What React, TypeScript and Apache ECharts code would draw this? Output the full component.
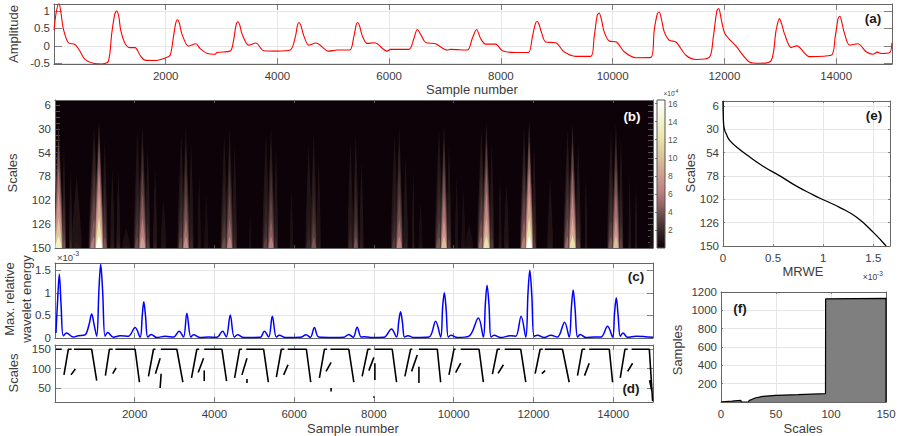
import React from "react";
import * as echarts from "echarts";

const FONT = '"Liberation Sans", Arial, sans-serif';
const TEXT = "#3c3c3c";
const FRAME = "#666666";
const GRIDLINE = "#e6e6e6";

const sampleTicks = [2000, 4000, 6000, 8000, 10000, 12000, 14000];
const scaleLabels = [6, 30, 54, 78, 102, 126, 150];
const scaleTicks = [6, 12, 18, 24, 30, 36, 42, 48, 54, 60, 66, 72, 78, 84, 90, 96, 102, 108, 114, 120, 126, 132, 138, 144, 150];
const amplitudeTicks = [-0.5, 0, 0.5, 1];
const energyTicks = [0, 0.5, 1, 1.5];
const dominantTicks = [50, 100, 150];
const mrweTicks = [0, 0.5, 1, 1.5];
const sampleCountTicks = [200, 400, 600, 800, 1000, 1200];
const scaleAxisTicks = [0, 50, 100, 150];
const colorbarTicks = [2, 4, 6, 8, 10, 12, 14, 16];

// (a) [sample, amplitude]
const signal: [number, number][] = [
  [1, 0.45], [40, 0.95], [90, 1.22], [125, 0.95], [167, 0.5], [257, 0.09], [376, 0.04], [454, -0.12], [556, -0.39], [705, -0.5], [855, -0.52], [974, -0.44],
  [1034, 0.35], [1085, 0.88], [1123, 1.0], [1160, 0.85], [1195, 0.45], [1273, 0.07], [1363, -0.05], [1452, -0.05], [1542, -0.27], [1631, -0.41], [1811, -0.42], [2002, -0.34], [2080, -0.27],
  [2139, 0.26], [2180, 0.65], [2211, 0.75], [2245, 0.65], [2289, 0.35], [2408, -0.01], [2540, 0.06], [2617, -0.08], [2749, -0.22], [2886, -0.24], [2916, -0.19], [3155, -0.15],
  [3215, 0.16], [3260, 0.6], [3293, 0.69], [3325, 0.6], [3365, 0.35], [3484, 0.02], [3615, 0.08], [3753, -0.14], [3992, -0.15], [4231, -0.12],
  [4321, 0.26], [4360, 0.6], [4386, 0.67], [4420, 0.58], [4470, 0.3], [4560, 0.02], [4691, 0.08], [4918, -0.15], [5068, -0.12], [5295, -0.12],
  [5367, 0.26], [5410, 0.6], [5438, 0.67], [5470, 0.58], [5516, 0.3], [5606, 0.07], [5737, 0.09], [5964, -0.15], [6024, -0.1], [6353, -0.1],
  [6442, 0.21], [6502, 0.47], [6574, 0.3], [6651, 0.1], [6830, 0.06], [7039, -0.12], [7099, -0.1], [7398, -0.12],
  [7487, 0.21], [7565, 0.47], [7637, 0.21], [7726, 0.05], [7906, 0.05], [8025, -0.14], [8264, -0.19], [8491, -0.19],
  [8563, 0.26], [8620, 0.65], [8653, 0.7], [8690, 0.58], [8724, 0.4], [8802, 0.11], [8981, 0.09], [9131, -0.17], [9340, -0.3], [9609, -0.3],
  [9669, 0.26], [9725, 0.88], [9758, 0.94], [9800, 0.75], [9848, 0.4], [9938, 0.14], [10069, 0.11], [10207, -0.17], [10416, -0.34], [10685, -0.33],
  [10744, 0.45], [10800, 0.92], [10834, 0.97], [10875, 0.75], [10924, 0.4], [11013, 0.16], [11133, 0.11], [11312, -0.27], [11491, -0.39], [11730, -0.33],
  [11802, 0.26], [11865, 1.0], [11898, 1.07], [11945, 0.75], [12011, 0.35], [12208, -0.01], [12447, -0.46], [12627, -0.5], [12836, -0.43],
  [12926, 0.45], [12986, 0.78], [13030, 0.6], [13075, 0.35], [13195, -0.05], [13296, 0], [13523, -0.31], [13912, -0.27],
  [13983, 0.26], [14035, 0.78], [14067, 0.85], [14105, 0.65], [14151, 0.35], [14240, 0.02], [14390, 0.06], [14539, -0.17], [14659, -0.24], [14736, -0.18], [14808, -0.22], [14957, -0.2], [15000, 0.09],
];

// (c) [sample, energy x 1e-3]
const maxEnergy: [number, number][] = [
  [25, 0.11], [65, 0.8], [109, 1.41], [155, 0.7], [209, 0.05], [293, 0.11], [460, 0.02], [586, 0.05], [754, 0.07], [850, 0.28], [921, 0.53], [985, 0.28], [1047, 0.04],
  [1105, 1.1], [1147, 1.63], [1195, 1.05], [1256, 0.04], [1323, 0.12], [1466, 0.015], [1633, 0.05], [1843, 0.04], [2010, 0.23], [2136, 0.015], [2190, 0.5], [2228, 0.8], [2270, 0.5], [2328, 0.02],
  [2412, 0.08], [2554, 0.01], [2764, 0.04], [2973, 0.02], [3115, 0.15], [3224, 0.02], [3308, 0.55], [3408, 0.02], [3475, 0.07], [3643, 0.01], [3852, 0.02], [4062, 0.015], [4204, 0.15], [4296, 0.02],
  [4397, 0.51], [4497, 0.02], [4581, 0.07], [4732, 0.01], [5150, 0.015], [5251, 0.15], [5360, 0.02], [5452, 0.48], [5553, 0.02], [5628, 0.06], [5779, 0.01], [6156, 0.015], [6298, 0.07], [6407, 0.015],
  [6507, 0.23], [6616, 0.02], [6993, 0.01], [7244, 0.015], [7370, 0.08], [7479, 0.015], [7580, 0.24], [7680, 0.02], [7747, 0.03], [7915, 0.01], [8250, 0.015], [8442, 0.2], [8568, 0.02],
  [8625, 0.38], [8668, 0.58], [8715, 0.35], [8769, 0.02], [8853, 0.05], [9003, 0.01], [9380, 0.02], [9548, 0.37], [9674, 0.02], [9725, 0.7], [9766, 1.0], [9810, 0.65], [9866, 0.02], [9933, 0.06],
  [10092, 0.01], [10385, 0.04], [10620, 0.44], [10745, 0.02], [10795, 0.75], [10838, 1.17], [10885, 0.75], [10938, 0.02], [11013, 0.06], [11181, 0.01], [11432, 0.05], [11558, 0.04], [11692, 0.48], [11809, 0.02],
  [11865, 1.0], [11910, 1.5], [11960, 0.95], [12018, 0.04], [12102, 0.06], [12270, 0.01], [12437, 0.06], [12605, 0.02], [12781, 0.35], [12898, 0.02], [12955, 0.7], [12998, 1.06], [13045, 0.65], [13107, 0.02],
  [13174, 0.08], [13317, 0.01], [13526, 0.02], [13694, 0.02], [13861, 0.26], [13987, 0.02], [14035, 0.55], [14079, 0.89], [14125, 0.5], [14179, 0.04], [14246, 0.11], [14364, 0.015], [14573, 0.04], [15000, 0.015],
];

// (d) strokes of the dominant scale, [sample, scale]
const dominantStrokes: [number, number][][] = [
  [[25, 150], [170, 150]],
  [[226, 84], [335, 150], [419, 150]],
  [[477, 150], [921, 150], [1047, 69]],
  [[1265, 82], [1365, 150], [1449, 150]],
  [[1516, 150], [2010, 150], [2119, 65]],
  [[2345, 80], [2471, 150], [2521, 150]],
  [[2655, 150], [3057, 150], [3208, 65]],
  [[3425, 76], [3559, 150], [3618, 150]],
  [[3744, 150], [4188, 150], [4305, 68]],
  [[4506, 76], [4631, 150], [4690, 150]],
  [[4799, 150], [5234, 150], [5352, 65]],
  [[5553, 78], [5678, 150], [5754, 150]],
  [[5837, 150], [6306, 150], [6415, 65]],
  [[6633, 76], [6758, 150], [6825, 150]],
  [[6909, 150], [7370, 150], [7496, 65]],
  [[7705, 80], [7848, 150], [7915, 150]],
  [[8024, 150], [8459, 150], [8568, 65]],
  [[8777, 80], [8920, 150], [8962, 150]],
  [[9129, 150], [9590, 150], [9674, 65]],
  [[9883, 84], [10008, 150], [10050, 150]],
  [[10176, 150], [10637, 150], [10745, 65]],
  [[10972, 86], [11097, 150], [11164, 150]],
  [[11281, 150], [11683, 150], [11809, 65]],
  [[12044, 87], [12169, 150], [12236, 150]],
  [[12286, 150], [12730, 150], [12898, 65]],
  [[13107, 82], [13224, 150], [13300, 150]],
  [[13400, 150], [13903, 150], [13987, 65]],
  [[14179, 76], [14296, 150], [14364, 150]],
  [[14464, 150], [14908, 150], [14991, 16]],
  [[402, 84], [511, 99]],
  [[1449, 87], [1533, 102]],
  [[2521, 87], [2638, 127]],
  [[2663, 87], [2638, 50]],
  [[3593, 90], [3727, 127]],
  [[3744, 95], [3744, 68]],
  [[4690, 84], [4816, 127]],
  [[4816, 73], [4816, 63]],
  [[5737, 84], [5846, 110]],
  [[6800, 93], [6926, 116]],
  [[6926, 50], [6926, 41]],
  [[7873, 95], [7999, 129]],
  [[8024, 114], [8024, 71]],
  [[7999, 29], [7999, 25]],
  [[8945, 93], [9087, 135]],
  [[9129, 105], [9129, 63]],
  [[10050, 90], [10176, 114]],
  [[11114, 88], [11248, 110]],
  [[12211, 87], [12295, 95]],
  [[13283, 82], [13400, 114]],
  [[14364, 93], [14489, 114]],
  [[14915, 70], [14975, 40]],
];

// (e) [MRWE x 1e-3, scale]
const mrweCurve: [number, number][] = [
  [0, 1], [0.003, 17.6], [0.01, 28], [0.033, 35], [0.067, 41.5], [0.133, 48], [0.233, 56], [0.4, 68], [0.567, 78], [0.733, 88.5], [0.9, 97.5], [1, 102.5], [1.167, 110.5], [1.333, 120.5], [1.5, 136], [1.627, 150],
];

// (f) [scale, samples]
const sampleCounts: [number, number][] = [
  [0, 0], [1, 3], [10, 10], [18, 18], [18.5, 0], [25, 0], [25.5, 15], [31, 44], [38, 62], [50, 73], [70, 80], [95, 91], [95.1, 1124], [150, 1131], [150, 0],
];

// (b) ridges: [centre sample, top scale, half width at scale 150, energy x 1e-4 at scale 150]
const ridges: [number, number, number, number][] = [
  [90, 24, 110, 14], [226, 46, 50, 4], [394, 71, 40, 2], [544, 78, 120, 1.2], [980, 29, 130, 6], [1105, 24, 110, 16], [1248, 41, 70, 4], [1440, 71, 50, 1.4], [1591, 73, 50, 1.6], [1784, 130, 100, 1],
  [2069, 32, 90, 3.5], [2194, 27, 100, 8], [2328, 48, 60, 2.8], [2512, 71, 50, 1.4], [2722, 103, 70, 1], [3166, 36, 90, 3.5], [3283, 28, 90, 7], [3417, 46, 60, 2], [3618, 78, 40, 1], [3794, 95, 50, 0.8],
  [4246, 37, 90, 3.5], [4380, 29, 90, 6.5], [4506, 46, 60, 2], [4899, 117, 30, 0.8], [5293, 37, 90, 3], [5419, 28, 90, 6], [5544, 49, 50, 2], [5930, 91, 40, 1], [6365, 46, 80, 2], [6491, 34, 80, 4], [6616, 59, 50, 1.2],
  [7412, 44, 70, 2], [7546, 34, 70, 4], [7689, 63, 50, 1.4], [8518, 36, 90, 2.8], [8635, 28, 90, 6.5], [8794, 59, 60, 1.4], [8987, 71, 30, 1.2], [9171, 103, 50, 0.8], [9632, 31, 100, 4], [9757, 26, 90, 10], [9883, 46, 60, 2.8],
  [10075, 76, 40, 1], [10243, 90, 50, 0.9], [10385, 125, 100, 0.8], [10695, 31, 100, 5], [10821, 24, 100, 12], [10955, 44, 60, 2.8], [11164, 76, 40, 1], [11323, 85, 60, 1.2], [11767, 29, 100, 6], [11893, 24, 100, 16], [12018, 46, 60, 2.8],
  [12420, 81, 70, 1.2], [12856, 31, 100, 5], [12981, 25, 100, 12], [13124, 44, 70, 2.8], [13317, 76, 30, 1.2], [13945, 32, 90, 4], [14070, 25, 90, 10], [14196, 39, 60, 3.2], [14414, 76, 30, 1.2], [14573, 85, 30, 1.2], [14970, 125, 60, 0.9],
];

const colormap = ["#0d0207", "#3b2a2a", "#7c5656", "#bd7f7f", "#cfa08f", "#dcc59c", "#e9e6ae", "#f5f5d2", "#ffffff"];
const COLOR_MAX = 16.4;
// how far down a ridge each shade starts, and the share of its base energy there
const ridgeDepths = [0, 0.15, 0.35, 0.55, 0.75, 0.9];
const ridgeShares = [0.14, 0.26, 0.4, 0.55, 0.75, 1];

function energyColor(v: number): string {
  return echarts.color.lerp(Math.min(v / COLOR_MAX, 1), colormap) as string;
}

type Panel = { left: number; top: number; width: number; height: number };

const panels: Panel[] = [
  { left: 54, top: 4, width: 838, height: 60 },
  { left: 55, top: 100, width: 598, height: 148 },
  { left: 55, top: 263, width: 598, height: 75 },
  { left: 55, top: 345, width: 598, height: 57 },
  { left: 723, top: 101, width: 167, height: 145 },
  { left: 721, top: 292, width: 165, height: 110 },
  { left: 657, top: 100, width: 8, height: 148 },
];

const label = { fontFamily: FONT, fontSize: 11.5, color: TEXT };

function axisPair(
  dim: "x" | "y",
  gridIndex: number,
  o: { min: number; max: number; ticks: number[]; labels?: number[]; len: number; inverse?: boolean; hideLabels?: boolean; noSplit?: boolean }
) {
  const base = {
    type: "value" as const,
    gridIndex,
    min: o.min,
    max: o.max,
    inverse: o.inverse,
    axisLine: { show: true, onZero: false, lineStyle: { color: FRAME, width: 1 } },
    axisTick: { show: true, inside: true, length: o.len, lineStyle: { color: FRAME, width: 0.8 }, customValues: o.ticks },
  };
  return [
    {
      ...base,
      position: dim === "x" ? "bottom" : "left",
      splitLine: { show: !o.noSplit, lineStyle: { color: GRIDLINE, width: 1 } },
      axisLabel: {
        ...label,
        show: !o.hideLabels,
        margin: dim === "x" ? 6 : 4,
        hideOverlap: false,
        customValues: o.labels ?? o.ticks,
        formatter: (v: number) => String(v),
      },
    },
    {
      ...base,
      position: dim === "x" ? "top" : "right",
      splitLine: { show: false },
      axisLabel: { show: false },
    },
  ];
}

function title(text: string, x: number, y: number, rotated = false, size = 13, weight = "normal", fill = TEXT) {
  return {
    type: "text",
    x,
    y,
    rotation: rotated ? Math.PI / 2 : 0,
    silent: true,
    z: 20,
    style: {
      text,
      fill,
      font: `${weight} ${size}px ${FONT}`,
      textAlign: "center",
      textVerticalAlign: "middle",
      align: "center",
      verticalAlign: "middle",
    },
  };
}

function renderRidge(params: any, api: any) {
  const centre = api.value(0);
  const topScale = api.value(1);
  const halfWidth = api.value(2);
  const base = api.value(3);
  const children = ridgeDepths.map((depth, i) => {
    const v = Math.max(base * ridgeShares[i], Math.min(base * 0.7, 0.9));
    const tip = topScale + (150 - topScale) * depth;
    const w = halfWidth * 1.25 * (1 - 0.35 * depth);
    const c = energyColor(v);
    const edge = echarts.color.modifyAlpha(c, 0) as string;
    return {
      type: "polygon",
      shape: { points: [api.coord([centre, tip]), api.coord([centre - w, 150]), api.coord([centre + w, 150])] },
      style: {
        fill: new echarts.graphic.LinearGradient(0, 0, 1, 0, [
          { offset: 0.02, color: edge },
          { offset: 0.22, color: c },
          { offset: 0.78, color: c },
          { offset: 0.98, color: edge },
        ]),
      },
    };
  });
  return { type: "group", children };
}

function renderColorbar(params: any, api: any) {
  const lo = api.coord([0, 0]);
  const hi = api.coord([1, COLOR_MAX]);
  return {
    type: "rect",
    shape: { x: lo[0], y: hi[1], width: hi[0] - lo[0], height: lo[1] - hi[1] },
    style: {
      fill: new echarts.graphic.LinearGradient(
        0,
        1,
        0,
        0,
        colormap.map((color, i) => ({ offset: i / (colormap.length - 1), color }))
      ),
    },
  };
}

export default function App() {
  const ref = React.useRef<HTMLDivElement>(null);

  React.useEffect(() => {
    if (!ref.current) return;
    const chart = echarts.init(ref.current, null, { renderer: "svg" });

    const xAxes: any[] = [
      ...axisPair("x", 0, { min: 1, max: 15000, ticks: sampleTicks, len: 6 }),
      ...axisPair("x", 1, { min: 1, max: 15000, ticks: sampleTicks, len: 3, hideLabels: true, noSplit: true }),
      ...axisPair("x", 2, { min: 1, max: 15000, ticks: sampleTicks, len: 5, hideLabels: true }),
      ...axisPair("x", 3, { min: 1, max: 15000, ticks: sampleTicks, len: 5 }),
      ...axisPair("x", 4, { min: 0, max: 1.666, ticks: mrweTicks, len: 2 }),
      ...axisPair("x", 5, { min: 0, max: 150, ticks: scaleAxisTicks, len: 2 }),
    ];
    xAxes.push({ type: "value", gridIndex: 6, min: 0, max: 1, show: false });

    const yAxes: any[] = [
      ...axisPair("y", 0, { min: -0.52, max: 1.2, ticks: amplitudeTicks, len: 8 }),
      ...axisPair("y", 1, { min: 1, max: 150, ticks: scaleTicks, labels: scaleLabels, len: 5, inverse: true, noSplit: true }),
      ...axisPair("y", 2, { min: 0, max: 1.66, ticks: energyTicks, len: 6 }),
      ...axisPair("y", 3, { min: 14, max: 161, ticks: dominantTicks, len: 6 }),
      ...axisPair("y", 4, { min: 1, max: 150, ticks: scaleLabels, len: 2, inverse: true }),
      ...axisPair("y", 5, { min: 0, max: 1200, ticks: sampleCountTicks, len: 2 }),
    ];
    yAxes.push({
      type: "value",
      gridIndex: 6,
      position: "right",
      min: 0,
      max: COLOR_MAX,
      axisLine: { show: false },
      splitLine: { show: false },
      axisTick: { show: true, inside: true, length: 2, lineStyle: { color: "#555555", width: 0.8 }, customValues: colorbarTicks },
      axisLabel: {
        fontFamily: FONT,
        fontSize: 8.5,
        color: "#555555",
        margin: 3,
        customValues: colorbarTicks,
        formatter: (v: number) => String(v),
      },
    });

    // the axes come in pairs per grid, the colourbar's is last
    const axisIndex = (g: number) => g * 2;

    const strokes: any[] = dominantStrokes.flatMap((s) => [...s, [s[s.length - 1][0], "-"]]);
    const sortedRidges = [...ridges].sort((p, q) => p[3] - q[3]);

    const option: any = {
      animation: false,
      backgroundColor: "#ffffff",
      textStyle: { fontFamily: FONT },
      grid: panels.map((p, i) => ({
        ...p,
        show: true,
        containLabel: false,
        borderWidth: 0,
        backgroundColor: i === 1 ? colormap[0] : "transparent",
        z: 0,
      })),
      xAxis: xAxes,
      yAxis: yAxes,
      series: [
        {
          type: "line",
          xAxisIndex: axisIndex(0),
          yAxisIndex: axisIndex(0),
          data: signal,
          smooth: 0.3,
          symbol: "none",
          lineStyle: { color: "#ff0000", width: 1.1 },
        },
        {
          type: "custom",
          xAxisIndex: axisIndex(1),
          yAxisIndex: axisIndex(1),
          data: sortedRidges,
          renderItem: renderRidge,
          encode: { x: 0, y: 1 },
          clip: true,
          silent: true,
        },
        {
          type: "line",
          xAxisIndex: axisIndex(2),
          yAxisIndex: axisIndex(2),
          data: maxEnergy,
          smooth: 0.35,
          symbol: "none",
          lineStyle: { color: "#0000ff", width: 1.5 },
        },
        {
          type: "line",
          xAxisIndex: axisIndex(3),
          yAxisIndex: axisIndex(3),
          data: strokes,
          symbol: "none",
          lineStyle: { color: "#000000", width: 1.6 },
        },
        {
          type: "line",
          xAxisIndex: axisIndex(4),
          yAxisIndex: axisIndex(4),
          data: mrweCurve,
          smooth: 0.5,
          symbol: "none",
          lineStyle: { color: "#000000", width: 1.3 },
        },
        {
          type: "line",
          xAxisIndex: axisIndex(5),
          yAxisIndex: axisIndex(5),
          data: sampleCounts,
          symbol: "none",
          lineStyle: { color: "#000000", width: 1.2 },
          areaStyle: { color: "#7f7f7f", opacity: 1 },
        },
        {
          type: "custom",
          xAxisIndex: 12,
          yAxisIndex: 12,
          data: [[0, COLOR_MAX]],
          renderItem: renderColorbar,
          silent: true,
        },
      ],
      graphic: [
        title("Amplitude", 13, 34, true),
        title("Sample number", 472, 89),
        title("Scales", 12, 173, true),
        title("Max. relative", 9, 299, true),
        title("wavelet energy", 26, 299, true),
        title("Scales", 13, 373, true),
        title("Sample number", 353, 428),
        title("Scales", 690, 173, true),
        title("MRWE", 803, 271),
        title("Samples", 677, 350, true),
        title("Scales", 803, 428),
        title("(a)", 873, 18, false, 13.5, "bold", "#1a1a1a"),
        title("(b)", 632, 116, false, 13.5, "bold", "#ffffff"),
        title("(c)", 636, 276, false, 13.5, "bold", "#1a1a1a"),
        title("(d)", 631, 388, false, 13.5, "bold", "#1a1a1a"),
        title("(e)", 874, 115, false, 13.5, "bold", "#1a1a1a"),
        title("(f)", 740, 308, false, 13.5, "bold", "#1a1a1a"),
        title("×10", 65, 257, false, 9.5),
        title("-3", 76, 253, false, 7),
        title("×10", 870, 277, false, 8.5),
        title("-3", 880, 273, false, 6.5),
        title("×10", 669, 93, false, 6.5),
        title("-4", 676, 91, false, 5),
        {
          type: "rect",
          shape: { x: 657, y: 100, width: 8, height: 148 },
          style: { fill: "none", stroke: "#555555", lineWidth: 1 },
          silent: true,
          z: 10,
        },
      ],
    };

    chart.setOption(option);
    return () => {
      chart.dispose();
    };
  }, []);

  return <div ref={ref} style={{ position: "fixed", left: 0, top: 0, width: 899, height: 436 }} />;
}
